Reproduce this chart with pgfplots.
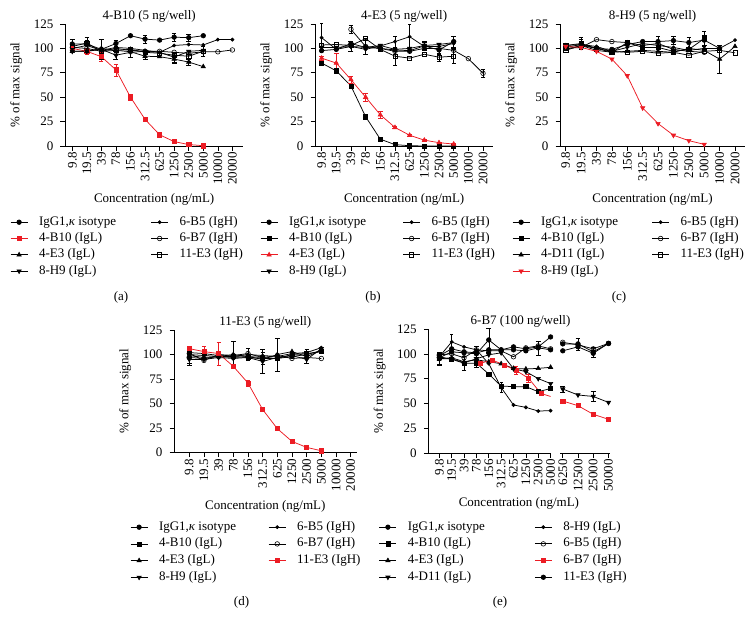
\documentclass[border=0pt]{standalone}
\usepackage{fontspec}
\setmainfont{Liberation Serif}
\usepackage{pgfplots}
\pgfplotsset{compat=1.18}
\definecolor{hl}{RGB}{236,28,36}
\pgfplotsset{
  ser/.style={black, line width=0.75pt, mark options={solid, line width=0.6pt}},
  pIg/.style={ser, mark=*, mark size=2.3pt},
  pSq/.style={ser, mark=square*, mark size=2.1pt},
  pTu/.style={ser, mark=triangle*, mark size=2.5pt},
  pTd/.style={ser, mark=triangle*, mark size=2.5pt, mark options={solid, line width=0.6pt, rotate=180}},
  pDi/.style={ser, mark=*, mark size=1.6pt},
  pOc/.style={ser, mark=o, mark size=2.3pt, mark options={solid, line width=0.6pt, fill=white}},
  pOs/.style={ser, mark=square, mark size=2.1pt, mark options={solid, line width=0.6pt, fill=white}},
  eb/.style={error bars/.cd, y dir=both, y explicit, error bar style={line width=0.5pt, solid}},
  panel/.style={scale only axis, anchor=south west, clip=false, axis lines*=left,
    ymin=0, ymax=125, ytick={0,25,50,75,100,125}, yticklabels={0,25,50,75,100,125},
    tick align=outside, major tick length=4.5pt, tick style={black, line width=0.6pt},
    axis line style={black, line width=0.7pt},
    xticklabel style={rotate=90, anchor=east, inner sep=1.5pt},
    yticklabel style={inner sep=2pt, xshift=-5pt},
    ylabel={\% of max signal}, xlabel={Concentration (ng/mL)},
    ylabel style={yshift=5pt}, xlabel style={yshift=-3pt},
    title style={yshift=-9pt},
    legend columns=2, legend cell align=left,
    legend style={draw=none, fill=none, inner sep=0pt, anchor=north west,
      nodes={inner sep=0pt, text height=9pt, text depth=3pt}, row sep=4.3pt,
      /tikz/every odd column/.append style={column sep=11pt}}},
  top12/.style={xtick={0,...,11}, xticklabels={9.8,19.5,39,78,156,312.5,625,1250,2500,5000,10000,20000}},
}
\newcommand{\iso}{IgG1,{\itshape κ} isotype}
\begin{document}
\fontsize{13}{15}\selectfont
\begin{tikzpicture}
\useasboundingbox (0,0) rectangle (754pt,-628pt);
% ---------------- (a)
\begin{axis}[panel, top12, at={(65pt,-146pt)}, width=178.3pt, height=122pt, xmin=-0.5, xmax=11.75,
  title={4-B10 (5 ng/well)}, title style={xshift=-5pt},
  legend style={at={(-0.3085,-0.5738)}, /tikz/every even column/.append style={column sep=34.7pt}}]
\addplot[pIg, eb] coordinates {(0,104.5)+-(0,5) (1,104.5)+-(0,4) (2,99) (3,105)+-(0,3) (4,113) (5,109.5)+-(0,4) (6,108.5) (7,111.5)+-(0,4) (8,111)+-(0,4) (9,113)};
\addlegendentry{\iso}
\addplot[pDi] coordinates {(0,100)(1,103)(2,98)(3,101)(4,100)(5,98)(6,96)(7,103)(8,104)(9,103.5)(10,109)(11,109)};
\addlegendentry{6-B5 (IgH)}
\addplot[pSq, hl, eb] coordinates {(0,100)+-(0,2) (1,97)+-(0,3) (2,91.5)+-(0,5) (3,78)+-(0,6) (4,50)+-(0,3) (5,27.3)+-(0,1) (6,11.5)+-(0,1) (7,4.5)+-(0,1) (8,1.5)+-(0,1) (9,0.3)+-(0,0.5)};
\addlegendentry{4-B10 (IgL)}
\addplot[pOc] coordinates {(0,101)(1,100)(2,97)(3,100)(4,98)(5,97)(6,97)(7,96)(8,95)(9,96.5)(10,96.5)(11,98.4)};
\addlegendentry{6-B7 (IgH)}
\addplot[pTu, eb] coordinates {(0,97)(1,97)(2,100)(3,98)(4,96.6)(5,92)+-(0,3)(6,91.5)(7,89)+-(0,4)(8,86)+-(0,3)(9,81.3)};
\addlegendentry{4-E3 (IgL)}
\addplot[pOs, eb] coordinates {(0,102)(1,105.5)+-(0,6)(2,97)(3,98)(4,99)(5,96)(6,95)(7,93)(8,92)+-(0,5)(9,97)+-(0,5)};
\addlegendentry{11-E3 (IgH)}
\addplot[pTd, eb] coordinates {(0,97)(1,97)(2,99)+-(0,10)(3,93)+-(0,4)(4,96)+-(0,5)(5,97)(6,96)(7,91)+-(0,5)(8,97)(9,98)};
\addlegendentry{8-H9 (IgL)}
\end{axis}
% ---------------- (b)
\begin{axis}[panel, top12, at={(315pt,-146pt)}, width=178.3pt, height=122pt, xmin=-0.45, xmax=11.7,
  title={4-E3 (5 ng/well)},
  legend style={at={(-0.3085,-0.5738)}, /tikz/every even column/.append style={column sep=36.7pt}}]
\addplot[pIg, eb] coordinates {(0,97.7)(1,99)(2,105)(3,101)(4,100)(5,98.4)(6,97.7)(7,102.5)+-(0,4)(8,98.4)+-(0,4)(9,107)+-(0,6)};
\addlegendentry{\iso}
\addplot[pDi, eb] coordinates {(0,111)+-(0,15)(1,99)(2,102)(3,99)(4,102.5)(5,107)+-(0,6)(6,112)+-(0,13)(7,102)(8,102)(9,105)};
\addlegendentry{6-B5 (IgH)}
\addplot[pSq] coordinates {(0,85)(1,77)(2,61.5)(3,30)(4,7)(5,1.4)(6,0.3)(7,0)(8,0)(9,0)};
\addlegendentry{4-B10 (IgL)}
\addplot[pOc, eb] coordinates {(2,119.5)+-(0,4)(3,102)+-(0,8)(4,100)(5,97)(6,97)(7,100)(8,100)(9,98)(10,89.5)(11,74.5)+-(0,4)};
\addlegendentry{6-B7 (IgH)}
\addplot[pTu, hl, eb] coordinates {(0,90)+-(0,2)(1,85)+-(0,10)(2,68)+-(0,4)(3,50)+-(0,4)(4,32)+-(0,4)(5,19)+-(0,1)(6,11)+-(0,1)(7,6)+-(0,1)(8,3.4)+-(0,0.5)(9,2)+-(0,0.5)};
\addlegendentry{4-E3 (IgL)}
\addplot[pOs, eb] coordinates {(0,103.5)(1,104)(2,103)(3,110)(4,99)(5,92)+-(0,9)(6,90)(7,94)(8,91)+-(0,4)(9,92)+-(0,7)};
\addlegendentry{11-E3 (IgH)}
\addplot[pTd, eb] coordinates {(0,101)(1,101)(2,102)+-(0,5)(3,101)(4,103)(5,99)(6,100)(7,103)+-(0,4)(8,104)(9,106)+-(0,6)};
\addlegendentry{8-H9 (IgL)}
\end{axis}
% ---------------- (c)
\begin{axis}[panel, top12, at={(560pt,-146pt)}, width=185pt, height=122pt, xmin=-0.37, xmax=11.65,
  title={8-H9 (5 ng/well)},
  legend style={at={(-0.2595,-0.5738)}, /tikz/every even column/.append style={column sep=33.7pt}}]
\addplot[pIg, eb] coordinates {(0,103)(1,104)+-(0,5)(2,100)(3,99)(4,104)(5,107)(6,107)+-(0,6)(7,108)+-(0,4)(8,106)+-(0,5)(9,108.5)+-(0,5)(10,100)};
\addlegendentry{\iso}
\addplot[pDi] coordinates {(0,101)(1,104)(2,102)(3,97)(4,101)(5,105)(6,103)(7,101)(8,98)(9,100)(10,100)(11,108.5)};
\addlegendentry{6-B5 (IgH)}
\addplot[pSq, eb] coordinates {(0,103)(1,105)+-(0,6)(2,100)(3,96)(4,106)(5,101)(6,101)(7,97)(8,99)(9,110)+-(0,8)};
\addlegendentry{4-B10 (IgL)}
\addplot[pOc] coordinates {(0,100)(1,101)(2,109)(3,107)(4,106)(5,103)(6,105)(7,99)(8,97)(9,96)};
\addlegendentry{6-B7 (IgH)}
\addplot[pTu, eb] coordinates {(0,99)(1,103)(2,98)(3,96)(4,97)(5,98)(6,97)(7,96)(8,100)(9,98)(10,89)+-(0,14)(11,102)};
\addlegendentry{4-D11 (IgL)}
\addplot[pOs] coordinates {(0,98)(1,103)(2,100)(3,97)(4,96)(5,97)(6,95)(7,96)(8,93)(9,97)(10,98)(11,95.5)};
\addlegendentry{11-E3 (IgH)}
\addplot[pTd, hl] coordinates {(0,102)(1,101)(2,97)(3,89)(4,72)(5,39)(6,23)(7,11)(8,5.5)(9,1.7)};
\addlegendentry{8-H9 (IgL)}
\end{axis}
% ---------------- (d)
\begin{axis}[panel, top12, at={(174pt,-452.7pt)}, width=182.7pt, height=122.7pt, xmin=-1.04, xmax=11.41,
  title={11-E3 (5 ng/well)},
  legend style={at={(-0.2408,-0.5566)}, row sep=4.7pt, /tikz/every even column/.append style={column sep=32.3pt}}]
\addplot[pIg, eb] coordinates {(0,97)+-(0,6)(1,96)(2,98)(3,97)(4,98)(5,97)(6,96)(7,98)(8,100)(9,104)};
\addlegendentry{\iso}
\addplot[pDi, eb] coordinates {(0,100)(1,99)(2,98)(3,98)(4,100)+-(0,6)(5,99)(6,98)(7,101)(8,102)(9,107)};
\addlegendentry{6-B5 (IgH)}
\addplot[pSq, eb] coordinates {(0,102)(1,101)(2,99)(3,98)(4,97)(5,96)+-(0,6)(6,96)(7,100)(8,101)+-(0,4)(9,103)};
\addlegendentry{4-B10 (IgL)}
\addplot[pOc] coordinates {(0,101)(1,94)(2,100)(3,99)(4,101)(5,97)(6,99)(7,96)(8,97)(9,96)};
\addlegendentry{6-B7 (IgH)}
\addplot[pTu, eb] coordinates {(0,99)(1,97)(2,98)(3,100)+-(0,14)(4,98)(5,95)(6,100)+-(0,17)(7,103)(8,98)(9,104)};
\addlegendentry{4-E3 (IgL)}
\addplot[pSq, hl, eb] coordinates {(0,106)+-(0,3)(1,103)+-(0,6)(2,101)+-(0,12)(3,88)+-(0,1)(4,71)+-(0,3)(5,44)+-(0,1)(6,24.5)+-(0,1)(7,11.5)+-(0,0.5)(8,5.4)+-(0,0.5)(9,2)+-(0,0.5)};
\addlegendentry{11-E3 (IgH)}
\addplot[pTd, eb] coordinates {(0,95)+-(0,6)(1,95)(2,97)(3,96)(4,97)(5,93)+-(0,12)(6,97)(7,99)(8,95)+-(0,4)(9,106)};
\addlegendentry{8-H9 (IgL)}
\end{axis}
% ---------------- (e) left
\begin{axis}[panel, at={(428.3pt,-453pt)}, width=122.3pt, height=124pt, xmin=-0.89, xmax=9,
  xtick={0,...,9}, xticklabels={9.8,19.5,39,78,156,312.5,625,1250,2500,5000},
  title={6-B7 (100 ng/well)}, title style={at={(0.754,1)}},
  xlabel style={at={(ticklabel cs:0.741)}},
  legend style={at={(-0.4047,-0.548)}, row sep=4.7pt, /tikz/every even column/.append style={column sep=49.6pt}}]
\addplot[pIg] coordinates {(0,98)(1,105)(2,102)(3,101)(4,104)(5,104)(6,107)(7,105)(8,107)(9,117)};
\addlegendentry{\iso}
\addplot[pDi, eb] coordinates {(0,97)(1,112)+-(0,8)(2,107)(3,104)(4,90)(5,66)+-(0,5)(6,48.4)(7,46)(8,42.3)(9,42.7)};
\addlegendentry{8-H9 (IgL)}
\addplot[pSq, eb] coordinates {(0,97)+-(0,3)(1,94.5)+-(0,2)(2,90.5)+-(0,7)(3,90.5)+-(0,4)(4,79.6)(5,67.5)(6,66.9)(7,66.9)(8,61.8)(9,65)};
\addlegendentry{4-B10 (IgL)}
\addplot[pOc] coordinates {(0,99)(1,100)(2,96)(3,104)(4,103)(5,103)(6,97)(7,106)(8,108)(9,105)};
\addlegendentry{6-B5 (IgH)}
\addplot[pTu] coordinates {(0,95)(1,96)(2,92)(3,94)(4,92)(5,90)(6,85.3)(7,84.7)(8,85.3)(9,86.4)};
\addlegendentry{4-E3 (IgL)}
\addplot[pSq, hl, eb] coordinates {(3.32,90.4)(4.26,93.8)(5.26,88.7)(6.23,83)+-(0,4)(7.22,75.3)+-(0,4)(8.22,60)};
\addlegendentry{6-B7 (IgH)}
\addplot[pTd, eb] coordinates {(0,95)+-(0,6)(1,95)(2,91)(3,95)(4,99)(5,101)(6,85)(7,82)(8,75)(9,70)};
\addlegendentry{4-D11 (IgL)}
\addplot[pIg, eb] coordinates {(0,96)+-(0,6)(1,102)(2,101)(3,100)+-(0,8)(4,114)+-(0,12)(5,104)(6,104)(7,103)(8,106)+-(0,7)(9,104)};
\addlegendentry{11-E3 (IgH)}
\addplot[hl, line width=0.75pt, no marks, forget plot] coordinates {(8.22,60)(9,57)};
\end{axis}
% ---------------- (e) right
\begin{axis}[scale only axis, anchor=south west, clip=false, at={(560pt,-453pt)}, width=50pt, height=124pt,
  xmin=-0.18, xmax=3.1, ymin=0, ymax=125, axis x line*=bottom, hide y axis,
  tick align=outside, major tick length=4.5pt, tick style={black, line width=0.6pt},
  axis line style={black, line width=0.7pt},
  xtick={0,1,2,3}, xticklabels={6250,12500,25000,50000},
  xticklabel style={rotate=90, anchor=east, inner sep=1.5pt}]
\addplot[pIg] coordinates {(0,103)(1,107)(2,100.5)(3,110.5)};
\addplot[pOc] coordinates {(0,111.6)(1,109)(2,105)(3,110.5)};
\addplot[pIg, eb] coordinates {(0,110)(1,110)+-(0,6)(2,102)+-(0,5)(3,110.5)};
\addplot[pTd, eb] coordinates {(0,64.5)+-(0,3)(1,58.5)(2,57)+-(0,5)(3,51)};
\addplot[pSq, hl] coordinates {(0,52.4)(1,47.7)(2,39)(3,34)};
\end{axis}
% captions
\node at (121pt,-297pt) {(a)};
\node at (373pt,-297pt) {(b)};
\node at (619pt,-297pt) {(c)};
\node at (241.5pt,-602pt) {(d)};
\node at (500pt,-602pt) {(e)};
\end{tikzpicture}
\end{document}
